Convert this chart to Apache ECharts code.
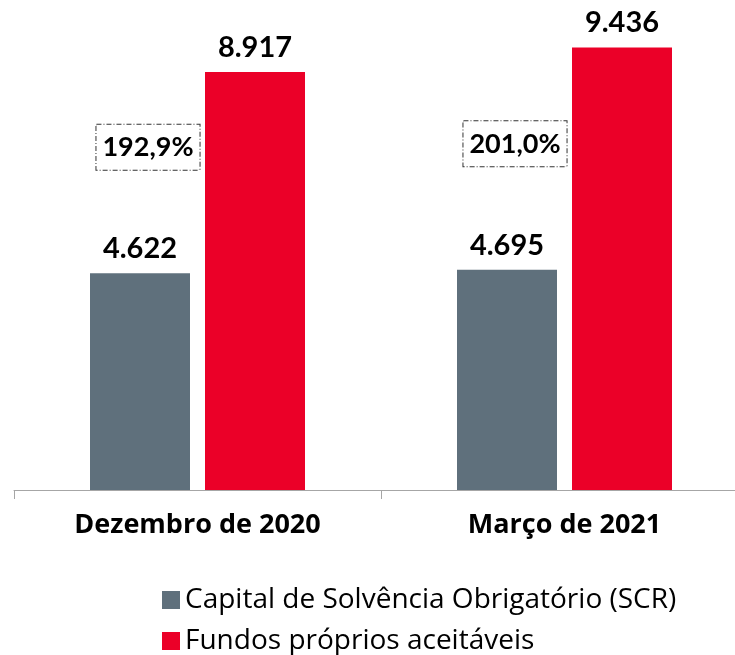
<!DOCTYPE html>
<html style="height: 100%">
<head>
    <meta charset="UTF-8">
    <title>SCR</title>
    <script type="text/javascript" src="https://cdn.jsdelivr.net/npm/echarts/dist/echarts.min.js"></script>
</head>
<body style="height: 100%; margin: 0; overflow: hidden">
    <div id="container" style="width: 748px; height: 655px"></div>
<script>
    var categories = ['Dezembro de 2020', 'Março de 2021'];
    var scrValues = [4622, 4695];
    var fundosValues = [8917, 9436];
    var ratioLabels = ['192,9%', '201,0%'];
    var seriesNames = ['Capital de Solvência Obrigatório (SCR)', 'Fundos próprios aceitáveis'];

    var fontFam = 'Lato, "Open Sans", sans-serif';
    var wideFam = '"Open Sans", Lato, sans-serif';
    var fmt = function (v) {
        return String(v).replace(/\B(?=(\d{3})+(?!\d))/g, '.');
    };

    var myChart = echarts.init(document.getElementById('container'));
    var option = {
        animation: false,
        grid: { left: 14, right: 0, top: 0, bottom: 165, containLabel: false },
        legend: {
            orient: 'vertical',
            left: 157,
            top: 579,
            height: 90,
            itemWidth: 18,
            itemHeight: 18,
            itemGap: 9,
            icon: 'rect',
            textStyle: { fontFamily: wideFam, fontSize: 28, lineHeight: 32, color: '#000' },
            data: seriesNames
        },
        xAxis: {
            type: 'category',
            data: categories,
            axisLine: { show: true, lineStyle: { color: '#a6a6a6', width: 1 } },
            axisTick: { show: true, length: 9, lineStyle: { color: '#a6a6a6' } },
            axisLabel: { fontFamily: wideFam, fontSize: 27, fontWeight: 'bold', color: '#000', margin: 22 }
        },
        yAxis: {
            type: 'value',
            min: 0,
            max: 10450,
            show: false,
            splitLine: { show: false }
        },
        series: [{
            name: seriesNames[0],
            type: 'bar',
            data: scrValues,
            barWidth: 100,
            barGap: '15%',
            itemStyle: { color: '#5f707c' },
            label: {
                show: true, position: 'top', distance: 10,
                fontFamily: fontFam, fontSize: 29, fontWeight: 'bold', color: '#000',
                formatter: function (p) { return fmt(p.value); }
            },
            markPoint: {
                symbol: 'rect',
                symbolSize: 1,
                itemStyle: { color: 'rgba(0,0,0,0)' },
                data: ratioLabels.map(function (t, i) {
                    return {
                        coord: [i, scrValues[i]],
                        value: t,
                        label: {
                            show: true,
                            position: 'inside',
                            offset: [8, -126],
                            formatter: t,
                            fontFamily: fontFam, fontSize: 27, fontWeight: 'bold', color: '#000',
                            borderColor: '#333', borderWidth: 1, borderType: [5, 2, 1, 2],
                            padding: [10, 6, 8, 6], backgroundColor: '#fff'
                        }
                    };
                })
            }
        }, {
            name: seriesNames[1],
            type: 'bar',
            data: fundosValues,
            barWidth: 100,
            itemStyle: { color: '#eb0028' },
            label: {
                show: true, position: 'top', distance: 10,
                fontFamily: fontFam, fontSize: 29, fontWeight: 'bold', color: '#000',
                formatter: function (p) { return fmt(p.value); }
            }
        }]
    };
    myChart.setOption(option);
</script>
</body>
</html>
